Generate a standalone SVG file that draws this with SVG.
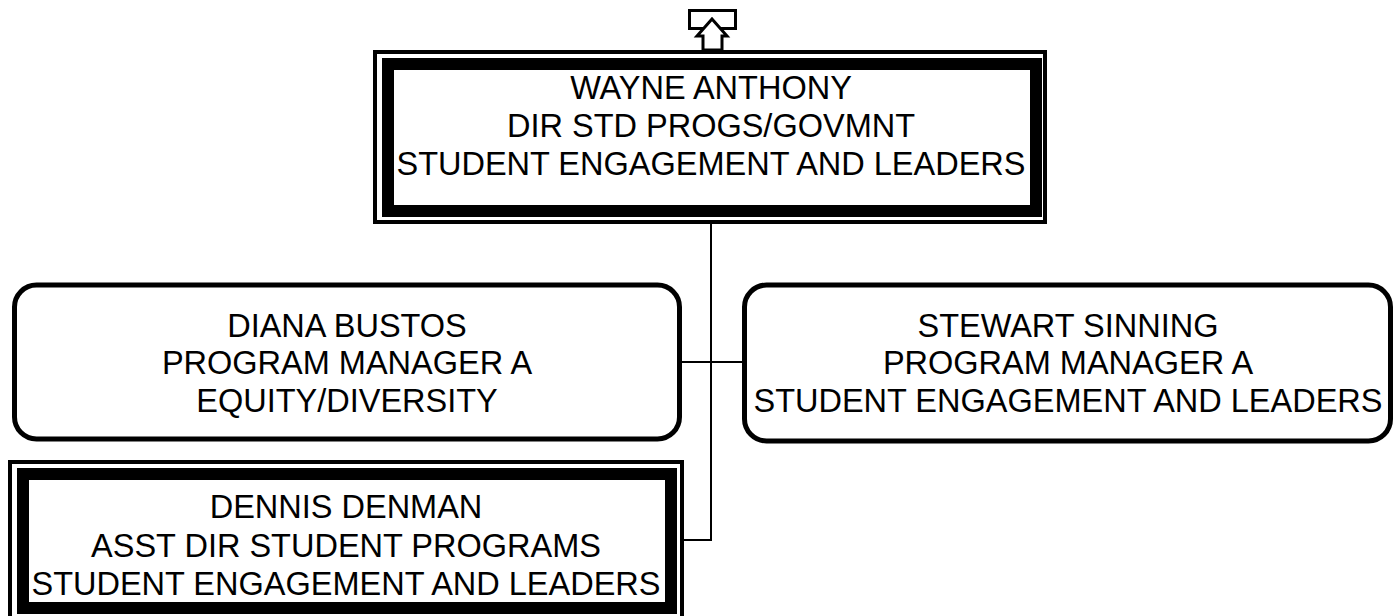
<svg xmlns="http://www.w3.org/2000/svg" width="1397" height="616" viewBox="0 0 1397 616">
<style>
.t{font-family:"Liberation Sans",Arial,sans-serif;font-size:32.5px;fill:#000;text-anchor:middle}
.outer{fill:none;stroke:#000;stroke-width:4}
.inner{fill:#fff;stroke:#000;stroke-width:12}
.round{fill:#fff;stroke:#000;stroke-width:5}
.conn{fill:none;stroke:#000;stroke-width:2}
</style>
<rect width="1397" height="616" fill="#fff"/>
<g id="connectors">
<path class="conn" d="M711,224 V540 H684"/>
<path class="conn" d="M682,362 H744"/>
</g>
<g id="up-icon">
<rect x="689.5" y="10.5" width="46" height="18" fill="#fff" stroke="#000" stroke-width="3"/>
<path d="M712,19 L697,36 L703,36 L703,50 L722,50 L722,36 L727,36 Z" fill="#fff" stroke="#000" stroke-width="3" stroke-linejoin="miter"/>
</g>
<g id="wayne">
<rect class="outer" x="375" y="52" width="670" height="170"/>
<rect class="inner" x="388" y="64" width="648" height="147"/>
<text class="t" x="711" y="99">WAYNE ANTHONY</text>
<text class="t" x="711" y="137">DIR STD PROGS/GOVMNT</text>
<text class="t" x="711" y="175">STUDENT ENGAGEMENT AND LEADERS</text>
</g>
<g id="diana">
<rect class="round" x="14.5" y="285" width="665" height="154" rx="22"/>
<text class="t" x="347" y="337">DIANA BUSTOS</text>
<text class="t" x="347" y="374">PROGRAM MANAGER A</text>
<text class="t" x="347" y="412">EQUITY/DIVERSITY</text>
</g>
<g id="stewart">
<rect class="round" x="744.5" y="285" width="646" height="156" rx="22"/>
<text class="t" x="1068" y="337">STEWART SINNING</text>
<text class="t" x="1068" y="374">PROGRAM MANAGER A</text>
<text class="t" x="1068" y="412">STUDENT ENGAGEMENT AND LEADERS</text>
</g>
<g id="dennis">
<rect class="outer" x="10" y="462" width="672" height="156"/>
<rect class="inner" x="23" y="474" width="648" height="134"/>
<text class="t" x="346" y="518">DENNIS DENMAN</text>
<text class="t" x="346" y="557">ASST DIR STUDENT PROGRAMS</text>
<text class="t" x="346" y="595">STUDENT ENGAGEMENT AND LEADERS</text>
</g>
</svg>
